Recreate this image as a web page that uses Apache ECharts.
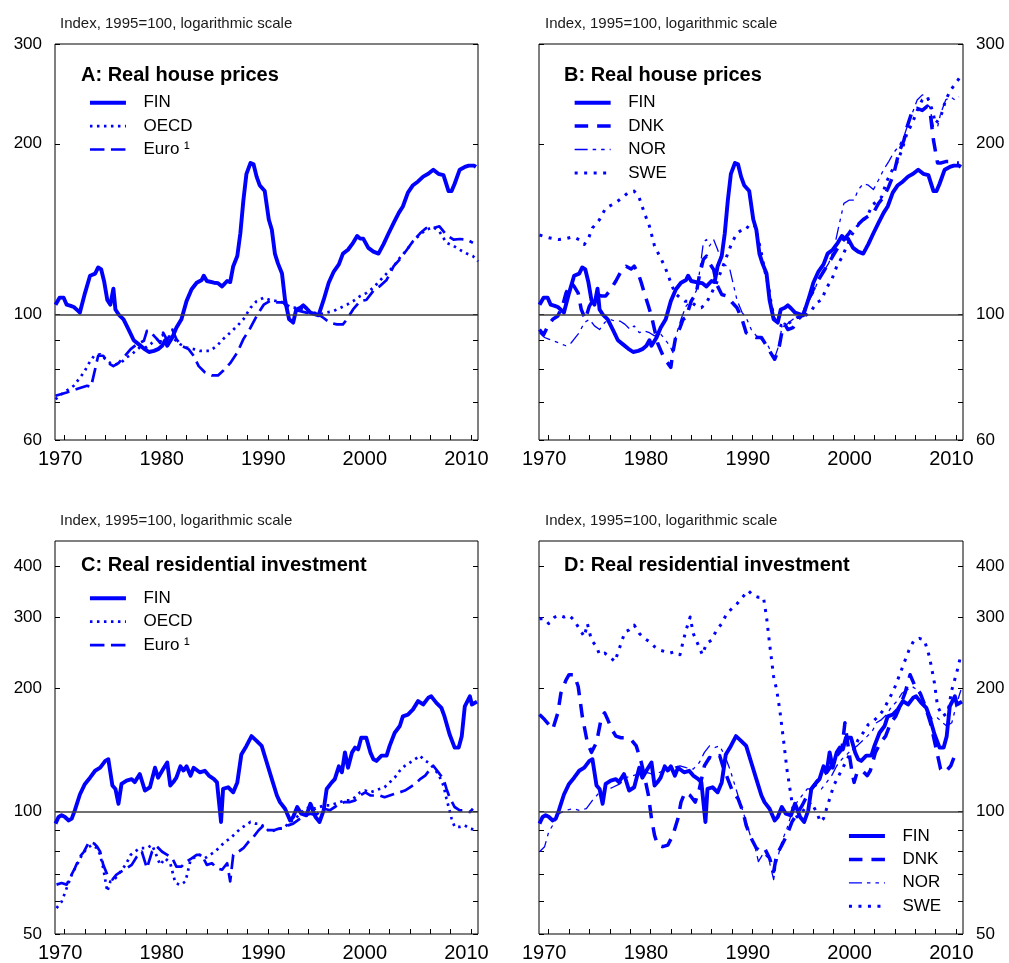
<!DOCTYPE html>
<html>
<head>
<meta charset="utf-8">
<script src="https://cdn.jsdelivr.net/npm/echarts@6/dist/echarts.min.js"></script>
<style>
html, body { margin: 0; padding: 0; background: #fff; }
#chart { width: 1009px; height: 963px; }
</style>
</head>
<body>
<div id="chart"></div>
<script>
// ---- Data: [year, index (1995 = 100)] ----
const finHousePrices = [[1969.1,104],[1969.5,107],[1969.9,107],[1970.2,104],[1970.6,103.5],[1970.9,103],[1971.3,101.5],[1971.5,100.7],[1972.0,109],[1972.5,117],[1973.0,118],[1973.3,121],[1973.6,120],[1973.9,114],[1974.2,106],[1974.5,104],[1974.8,111],[1975.0,102],[1975.3,100],[1975.8,98],[1976.3,94],[1976.8,90],[1977.3,88.5],[1977.8,87],[1978.3,85.8],[1978.8,86.2],[1979.2,86.8],[1979.6,88],[1979.9,90],[1980.1,88],[1980.6,91],[1981.0,94.7],[1981.5,98],[1982.0,105.5],[1982.5,110.7],[1983.0,113.7],[1983.5,115],[1983.7,117],[1984.0,114.5],[1984.7,113.7],[1985.1,113.5],[1985.5,112],[1986.0,114.5],[1986.3,114],[1986.6,121.6],[1987.0,126.7],[1987.3,139],[1987.6,159],[1987.9,177],[1988.3,185],[1988.6,184],[1988.9,175],[1989.2,169],[1989.7,165],[1990.1,147],[1990.4,141],[1990.7,128],[1991.0,123],[1991.4,118],[1991.7,106],[1992.1,98],[1992.5,96.7],[1992.8,102],[1993.2,102.7],[1993.5,103.7],[1993.8,102.5],[1994.2,100.7],[1994.7,100],[1995.0,99.6],[1995.5,106],[1996.0,113.7],[1996.5,119],[1997.0,122.5],[1997.4,128],[1997.9,130],[1998.4,133.7],[1998.8,137.5],[1999.1,136],[1999.4,136],[1999.9,131],[2000.4,129],[2000.9,128],[2001.4,133],[2001.9,139],[2002.4,145],[2002.9,151],[2003.3,155],[2003.8,164],[2004.3,169],[2004.8,171.6],[2005.3,175],[2005.8,177],[2006.3,180],[2006.8,177],[2007.3,176],[2007.8,165],[2008.1,165],[2008.4,170],[2008.9,180],[2009.4,182],[2009.8,183],[2010.3,183],[2010.5,182]];

const oecdHousePrices = [[1969.1,70.8],[1969.7,72.3],[1970.9,74.8],[1971.9,79],[1972.4,82],[1972.9,84.5],[1973.5,85],[1973.8,84],[1974.5,82],[1975.0,81.6],[1975.5,82],[1976.1,83.9],[1976.8,85.6],[1977.4,87.4],[1978.1,87.5],[1978.6,89],[1979.2,90.5],[1979.7,92],[1980.2,91.5],[1980.6,91],[1981.4,88.5],[1982.0,87.4],[1982.7,86.8],[1983.3,86.2],[1984.3,86.2],[1985.0,88],[1985.6,90.4],[1986.3,92.8],[1987.0,95.4],[1987.6,98],[1988.3,102.7],[1988.9,105.5],[1989.6,107],[1990.2,106],[1990.9,105.5],[1991.5,105],[1992.2,103],[1993.0,102.5],[1994.0,101.5],[1995.1,100],[1996.5,101.4],[1997.8,104],[1998.4,105.5],[1999.1,107.7],[1999.7,109],[2000.4,111.4],[2001.0,114.5],[2001.7,118],[2002.4,121.6],[2003.0,125.8],[2003.7,130],[2004.3,134.6],[2005.0,138.3],[2005.6,141],[2006.3,142.6],[2006.9,140],[2007.6,133.7],[2008.3,132],[2008.9,130],[2009.6,128],[2010.2,126.7],[2010.7,124]];

const euroHousePrices = [[1969.1,71.8],[1970.2,72.8],[1971.2,73.8],[1972.2,74.8],[1972.6,74.5],[1973.0,80],[1973.3,84.5],[1973.8,84.5],[1974.3,82],[1974.8,81],[1975.3,82],[1975.8,83.9],[1976.5,86.8],[1977.1,88.5],[1977.8,89.8],[1978.1,93.5],[1978.4,93.5],[1978.8,91.6],[1979.1,90.4],[1979.4,89],[1979.7,92.8],[1980.1,90],[1980.6,94],[1981.0,90.4],[1981.5,88],[1982.2,86.8],[1982.7,84.5],[1983.2,81],[1983.8,79],[1984.5,78],[1985.1,78],[1985.6,79.5],[1986.3,82],[1987.0,85.6],[1987.6,90.4],[1988.3,94.7],[1988.9,99.3],[1989.6,104],[1990.2,105.5],[1990.9,105],[1991.5,105],[1992.0,102.7],[1993.0,101.5],[1994.0,100.5],[1995.0,100],[1995.5,98.5],[1996.1,96.7],[1996.8,96],[1997.4,96],[1997.8,98],[1998.4,102],[1999.1,105.5],[1999.7,106],[2000.4,110],[2001.0,112],[2001.7,115],[2002.4,121.6],[2003.0,125],[2003.7,130],[2004.3,134.6],[2005.0,139],[2005.6,142],[2006.3,142],[2006.9,143],[2007.6,138],[2008.3,135.5],[2008.9,135.8],[2009.6,135.5],[2010.2,133.7]];

const dnkHousePrices = [[1969.1,94],[1969.5,92],[1970.0,96],[1970.4,98],[1970.9,99.3],[1971.4,104],[1971.7,109],[1972.2,113.7],[1972.5,112],[1972.9,109],[1973.2,102],[1973.6,98],[1974.0,103.4],[1974.3,105.5],[1974.7,108.5],[1975.2,107.7],[1975.6,107.7],[1976.1,110.7],[1976.6,114.5],[1977.1,119],[1977.6,121.6],[1978.1,120.2],[1978.4,121.6],[1978.8,118],[1979.1,113.7],[1979.4,109],[1979.8,103.4],[1980.1,99.3],[1980.4,94],[1980.7,89],[1981.1,85.6],[1981.4,83.3],[1981.7,82],[1982.0,80.6],[1982.2,85.6],[1982.5,91.6],[1982.9,94.7],[1983.2,98],[1983.5,98.7],[1984.0,105.5],[1984.5,109],[1984.8,117],[1985.2,125],[1985.5,126.7],[1985.8,123],[1986.2,120],[1986.5,113],[1987.0,108.4],[1987.5,107.7],[1988.0,105],[1988.5,102.7],[1989.0,98],[1989.4,92.8],[1989.9,91.6],[1990.4,91],[1990.9,91],[1991.4,88],[1991.9,85],[1992.2,83.3],[1992.6,86.8],[1992.9,92.8],[1993.2,96],[1993.5,94],[1994.0,94.7],[1994.5,98],[1995.0,100],[1995.5,106],[1996.0,110.7],[1996.5,115],[1997.0,119],[1997.5,123],[1998.0,127.5],[1998.5,131.9],[1999.0,135.5],[1999.5,139],[2000.0,143],[2000.4,144],[2000.9,147],[2001.4,149],[2001.9,151],[2002.4,157],[2002.9,161],[2003.4,168],[2003.9,177],[2004.4,193],[2004.9,203],[2005.2,214],[2005.7,228],[2006.2,231],[2006.7,229],[2007.2,233],[2007.5,225],[2007.8,203],[2008.2,185],[2008.5,185],[2009.0,186],[2009.5,186],[2010.0,185],[2010.3,185]];

const norHousePrices = [[1969.1,92.8],[1969.6,91],[1970.0,90.4],[1970.5,89.7],[1971.0,89],[1971.7,88],[1972.2,89],[1972.5,90.4],[1973.0,92.8],[1973.5,96.7],[1974.0,98],[1974.5,95.4],[1975.0,94],[1975.5,96.7],[1976.0,98],[1976.5,97.3],[1977.0,97.3],[1977.5,96],[1978.0,94],[1978.4,95.4],[1978.9,92.8],[1979.4,93.5],[1979.9,92.8],[1980.4,91.6],[1980.9,92.8],[1981.4,90.4],[1981.9,88],[1982.2,85.6],[1982.5,91.6],[1983.0,98],[1983.5,103.4],[1984.0,106],[1984.5,110],[1984.8,118],[1985.2,134],[1985.5,135.5],[1985.8,132],[1986.2,135.5],[1986.6,130],[1987.1,123],[1987.5,121.6],[1987.8,120],[1988.1,113.7],[1988.5,106],[1989.0,100.7],[1989.4,98.7],[1989.9,94],[1990.4,91.6],[1990.9,90.4],[1991.4,89],[1991.9,85.6],[1992.1,82.8],[1992.6,88],[1992.9,94.7],[1993.4,96],[1994.0,98],[1994.5,99.3],[1995.0,100.7],[1995.5,105.5],[1996.0,109],[1996.5,115],[1997.0,119],[1997.5,123],[1998.0,130],[1998.5,143],[1999.0,157],[1999.5,159],[2000.0,159],[2000.4,165.8],[2000.9,170],[2001.4,169],[2001.9,166],[2002.4,172.6],[2002.9,180],[2003.4,186],[2003.9,193],[2004.4,198],[2004.9,206],[2005.2,214],[2005.7,226],[2006.2,239],[2006.7,244],[2007.2,242],[2007.5,229],[2007.8,214],[2008.2,214],[2008.5,226],[2009.0,239],[2009.5,242],[2009.9,239],[2010.3,242]];

const sweHousePrices = [[1969.1,138],[1970.0,136.5],[1971.0,135.5],[1971.7,136],[1972.4,137],[1973.0,135.5],[1973.5,132.8],[1973.9,136],[1974.3,142],[1975.0,147],[1975.6,154],[1976.5,157],[1977.3,161],[1977.8,164],[1978.4,165],[1978.9,160.5],[1979.4,151],[1979.9,143],[1980.4,132],[1980.9,126.7],[1981.4,121.6],[1981.9,115],[1982.4,109],[1982.9,107],[1983.4,105.5],[1983.9,105.5],[1984.5,103.4],[1985.0,102.7],[1985.5,104.8],[1986.0,109],[1986.5,113.7],[1987.0,120],[1987.5,126.7],[1988.0,133.8],[1988.5,139],[1989.0,141],[1989.4,143],[1989.9,141],[1990.3,143],[1990.6,135.5],[1990.9,128],[1991.2,120],[1991.6,112],[1991.9,103.4],[1992.2,98],[1992.6,96],[1992.9,95.4],[1993.4,96],[1993.9,97.3],[1994.4,98.7],[1994.9,98.7],[1995.4,100],[1995.8,101.4],[1996.3,104.8],[1996.8,106],[1997.3,111.4],[1997.8,115],[1998.3,121.6],[1998.8,126],[1999.3,132],[1999.8,138.3],[2000.3,143],[2000.8,146],[2001.3,149],[2001.8,156],[2002.2,158],[2002.7,161],[2003.2,171.6],[2003.7,179],[2004.2,185],[2004.7,195],[2005.2,209],[2005.7,217],[2006.2,229],[2006.7,239],[2007.2,242],[2007.7,229],[2008.0,217],[2008.5,223],[2009.0,239],[2009.5,249],[2010.0,256],[2010.4,262]];

const finInvestment = [[1969.1,93.3],[1969.4,96.9],[1969.7,97.8],[1970.0,97],[1970.4,95],[1970.7,96],[1971.0,100.6],[1971.5,110],[1972.0,116.8],[1972.5,121],[1973.0,125.8],[1973.5,128],[1974.0,133],[1974.3,134.3],[1974.7,115.7],[1975.0,113.5],[1975.3,104.4],[1975.6,116.8],[1976.1,119],[1976.6,120],[1976.9,118],[1977.4,123.5],[1977.9,112.5],[1978.4,114.6],[1978.9,128],[1979.2,121],[1979.7,127],[1980.1,131.8],[1980.4,115.7],[1980.7,118],[1981.0,121],[1981.4,129],[1981.7,126],[1982.0,129],[1982.4,122.4],[1982.7,128],[1983.3,124.7],[1983.8,125.8],[1984.2,122.4],[1984.7,120],[1985.0,117.8],[1985.4,94.2],[1985.6,113.5],[1986.1,114.6],[1986.6,111.4],[1987.0,117.8],[1987.4,138],[1987.9,144.8],[1988.4,153],[1988.9,149],[1989.4,144.8],[1989.9,131.8],[1990.4,120],[1990.9,109.4],[1991.2,105.4],[1991.7,101.5],[1992.2,95],[1992.5,96.9],[1992.9,102.5],[1993.3,98.7],[1993.8,97.8],[1994.2,104.4],[1994.7,96.9],[1995.1,94.2],[1995.5,100.6],[1995.8,113.5],[1996.3,117.8],[1996.6,120],[1997.0,129],[1997.3,124.7],[1997.6,139.6],[1997.9,128],[1998.3,139.6],[1998.6,143.4],[1998.9,142],[1999.2,151.6],[1999.7,151.6],[2000.1,139.6],[2000.4,134.3],[2000.7,133],[2001.2,137],[2001.7,137],[2002.0,144.8],[2002.5,156],[2003.0,162],[2003.3,171],[2003.8,172.7],[2004.3,178],[2004.8,186.5],[2005.3,183],[2005.8,190],[2006.1,191.6],[2006.6,184.6],[2007.1,179.4],[2007.4,171],[2007.9,154.6],[2008.4,143.4],[2008.8,143.4],[2009.1,153],[2009.4,181],[2009.9,191.6],[2010.1,183],[2010.6,186]];

const oecdInvestment = [[1969.2,57.9],[1969.7,60],[1970.2,64.8],[1970.7,69.9],[1971.2,73.9],[1971.7,78.2],[1972.2,81.2],[1972.7,82.7],[1973.2,81.2],[1973.5,78.2],[1973.8,72.5],[1974.2,63.6],[1974.5,67.3],[1975.0,68.5],[1975.5,71.2],[1976.0,73.9],[1976.5,78.2],[1976.9,79.6],[1977.4,81.2],[1978.1,81.2],[1978.6,82.7],[1978.9,79.6],[1979.4,73.9],[1979.9,76.7],[1980.4,74.6],[1980.9,66.7],[1981.4,66],[1981.9,67.3],[1982.4,76],[1982.9,77.4],[1983.3,78.2],[1983.8,76.7],[1984.3,78.2],[1984.8,79.6],[1985.3,81.9],[1985.8,84.2],[1986.3,85.8],[1986.8,88.2],[1987.3,90.7],[1987.8,92.4],[1988.3,94.2],[1988.8,93.3],[1989.2,93.3],[1989.7,91.6],[1990.2,89],[1990.7,89.9],[1991.2,90.7],[1991.7,91.6],[1992.2,94.2],[1992.7,96],[1993.2,98.7],[1993.7,101.5],[1994.2,102.5],[1994.7,101.5],[1995.1,102.5],[1995.6,103.4],[1996.1,103.4],[1996.6,104.4],[1997.1,105.4],[1997.6,106.4],[1998.1,106.4],[1998.6,108.3],[1999.1,111.4],[1999.6,112.5],[2000.1,111.4],[2000.6,112.5],[2001.0,113.5],[2001.5,114.6],[2002.0,117.8],[2002.5,121],[2003.0,125.8],[2003.5,129.4],[2004.0,131.8],[2004.5,134.3],[2005.0,137],[2005.3,134.3],[2005.8,131.8],[2006.3,128],[2006.8,123.5],[2007.3,115.7],[2007.6,107.4],[2008.1,96],[2008.4,91.6],[2008.9,91.6],[2009.4,92.4],[2009.9,90.7],[2010.6,89.9]];

const euroInvestment = [[1969.2,66.1],[1969.7,66.7],[1970.2,66.1],[1970.5,68.5],[1971.0,72.5],[1971.5,77.4],[1971.9,79.6],[1972.4,84.2],[1972.9,83.4],[1973.2,81.9],[1973.5,79.6],[1973.8,73.9],[1974.2,69.9],[1974.7,68],[1975.1,69.9],[1975.6,71.2],[1976.1,72.5],[1976.6,73.9],[1977.1,77.4],[1977.6,79.6],[1978.1,72.5],[1978.6,79.6],[1979.1,81.9],[1979.6,79.6],[1980.1,78.2],[1980.6,76.7],[1981.0,73.2],[1981.5,73.2],[1982.0,75.3],[1982.5,76.7],[1983.0,78.2],[1983.5,78.2],[1984.0,73.9],[1984.5,74.6],[1985.0,72.5],[1985.5,71.9],[1986.0,74.6],[1986.3,67.3],[1986.6,78.2],[1987.1,79.6],[1987.6,81.2],[1988.1,84.2],[1988.6,86.6],[1989.1,89.9],[1989.6,92.4],[1990.1,89.9],[1990.6,89.9],[1991.1,90.7],[1991.5,90.7],[1992.0,92.4],[1992.5,93.3],[1993.2,96],[1993.7,97.8],[1994.2,98.7],[1994.7,97.8],[1995.1,99.6],[1995.6,101.5],[1996.1,100.6],[1996.6,102.5],[1997.1,104.4],[1997.6,105.4],[1998.1,105.4],[1998.6,106.4],[1999.1,109.4],[1999.6,111.4],[2000.1,109.4],[2000.6,109.4],[2001.0,109.4],[2001.5,108.3],[2002.0,109.4],[2002.5,110.4],[2003.0,111.4],[2003.5,112.5],[2004.0,114.6],[2004.5,116.8],[2005.0,120],[2005.5,122.4],[2006.0,127],[2006.3,129.4],[2006.8,124.7],[2007.3,120],[2007.6,113.5],[2007.9,108.3],[2008.4,102.5],[2008.9,100.6],[2009.4,100.6],[2009.9,99.6],[2010.2,101.5]];

const dnkInvestment = [[1969.1,172.8],[1969.6,168],[1970.0,163.5],[1970.4,159],[1970.9,174.5],[1971.2,195],[1971.7,210],[1972.0,216.5],[1972.5,216.5],[1972.9,202.6],[1973.3,171.3],[1973.8,147.5],[1974.2,139.6],[1974.7,147.5],[1975.2,171],[1975.5,174.5],[1975.8,168],[1976.2,159],[1976.6,153],[1977.1,151.6],[1977.6,151.6],[1978.1,150],[1978.6,144.8],[1979.1,131.8],[1979.4,122.4],[1979.8,109.4],[1980.1,96],[1980.4,87.4],[1980.7,82.6],[1981.2,81.9],[1981.7,82.6],[1982.2,87.4],[1982.7,96],[1983.0,105.4],[1983.4,111.4],[1983.9,109.4],[1984.4,105.4],[1984.8,113.5],[1985.3,129.4],[1985.8,135.6],[1986.3,134.3],[1986.8,137],[1987.1,129.4],[1987.6,120],[1988.1,111.4],[1988.6,107.4],[1989.1,99.6],[1989.4,92.4],[1989.9,85.8],[1990.4,81.2],[1990.8,80],[1991.2,81.2],[1991.7,76.7],[1992.1,71.2],[1992.4,78.2],[1992.9,82.6],[1993.4,87.4],[1993.9,94.2],[1994.4,98.7],[1994.9,103.4],[1995.4,109.4],[1995.8,113.5],[1996.3,117.8],[1996.8,122.4],[1997.3,124.7],[1997.8,129.4],[1998.3,137],[1998.8,142],[1999.1,165],[1999.5,139.6],[1999.8,124.7],[2000.0,117.8],[2000.3,124.7],[2000.8,125.8],[2001.3,122.4],[2001.6,126],[2002.1,139.6],[2002.6,147.5],[2003.1,153],[2003.6,165],[2004.1,171.3],[2004.5,181],[2005.0,195],[2005.5,216.5],[2006.0,202.6],[2006.5,195],[2007.0,181],[2007.5,165],[2008.0,144.8],[2008.5,127],[2008.8,124.7],[2009.1,126],[2009.5,129.4],[2010.0,139.6]];

const norInvestment = [[1969.1,79.6],[1969.6,81.9],[1970.0,89],[1970.6,94.2],[1971.0,98.7],[1971.7,100.6],[1972.4,101.5],[1973.0,100.6],[1973.7,101.5],[1974.3,106.4],[1975.0,111.4],[1975.6,112.5],[1976.3,114.6],[1977.0,116.8],[1977.6,121],[1978.3,122.4],[1978.9,123.5],[1979.6,124.7],[1980.2,123.5],[1980.9,124.7],[1981.6,127],[1982.2,128],[1982.9,129.4],[1983.5,128],[1984.2,127],[1984.8,131.8],[1985.3,139.6],[1985.8,144.8],[1986.3,143.4],[1986.8,144.8],[1987.3,137],[1987.8,127],[1988.3,115.7],[1988.8,105.4],[1989.3,96],[1989.8,87.4],[1990.3,81.2],[1990.6,75.3],[1991.1,78.9],[1991.6,76.7],[1992.1,68],[1992.4,75.3],[1992.9,84.2],[1993.4,90.7],[1993.9,99.6],[1994.4,105.4],[1994.9,109.4],[1995.4,113.5],[1995.8,113.5],[1996.3,115.7],[1996.8,113.5],[1997.3,117.8],[1997.8,122.4],[1998.3,129.4],[1998.8,134.3],[1999.3,138],[1999.8,142],[2000.3,144.8],[2000.8,148.8],[2001.3,153],[2001.8,157.6],[2002.2,165],[2002.7,168],[2003.2,172.8],[2003.7,181],[2004.2,186.2],[2004.7,195],[2005.2,198.6],[2005.7,202.6],[2006.2,198.6],[2006.7,188],[2007.2,178],[2007.7,168],[2008.2,169.6],[2008.7,165],[2009.1,162],[2009.6,165],[2010.1,184.6],[2010.5,198.6]];

const sweInvestment = [[1969.1,297],[1969.6,297],[1970.0,289],[1970.6,300],[1971.0,303],[1971.5,300],[1972.0,303],[1972.5,294.5],[1973.0,281],[1973.5,268.5],[1973.8,289],[1974.2,263.4],[1974.7,253.7],[1975.0,242.4],[1975.5,244.6],[1976.0,240],[1976.5,233],[1977.0,253.7],[1977.5,276],[1977.9,278.8],[1978.4,286.6],[1978.9,273.4],[1979.4,265.9],[1979.9,260.9],[1980.4,253.7],[1980.9,248.9],[1981.4,246.7],[1981.9,244.6],[1982.4,246.7],[1982.9,242.4],[1983.2,260.9],[1983.5,278.8],[1983.9,300],[1984.2,273.4],[1984.7,256],[1985.1,242.4],[1985.5,258.3],[1986.0,263.4],[1986.5,278.8],[1987.0,289],[1987.5,306],[1988.0,314.6],[1988.5,323.3],[1988.9,332.4],[1989.6,348.4],[1990.1,338.6],[1990.6,335.3],[1991.1,335.3],[1991.4,300],[1991.7,258],[1992.1,214],[1992.4,198.6],[1992.7,177.6],[1993.1,147.5],[1993.4,127],[1993.7,113.5],[1994.0,101.5],[1994.4,96.9],[1994.9,99.6],[1995.4,103.4],[1995.8,105.4],[1996.3,99.6],[1996.7,94.2],[1997.0,96],[1997.5,105.4],[1998.0,115.7],[1998.5,122.4],[1999.0,129.4],[1999.5,137],[2000.0,142],[2000.4,150],[2000.9,156],[2001.4,163.5],[2001.9,166.6],[2002.4,171.3],[2002.9,177.6],[2003.4,188],[2003.9,198.6],[2004.4,214],[2004.9,231],[2005.4,249],[2005.9,263.4],[2006.4,265.9],[2006.9,263.4],[2007.4,240],[2007.9,206.3],[2008.2,181],[2008.7,171.3],[2009.2,174.5],[2009.6,198.6],[2010.1,220],[2010.5,242.4]];

// ---- Axis ticks and labels ----
const tickYears = [1970,1972,1974,1976,1978,1980,1982,1984,1986,1988,1990,1992,1994,1996,1998,2000,2002,2004,2006,2008,2010];
const labelYears = [1970,1980,1990,2000,2010];
const priceTicks = [60,70,80,90,100,200,300];
const priceLabels = [60,100,200,300];
const investTicks = [50,60,70,80,90,100,200,300,400];
const investLabels = [50,100,200,300,400];

const subtitleText = 'Index, 1995=100, logarithmic scale';
const panelTitles = ['A: Real house prices', 'B: Real house prices', 'C: Real residential investment', 'D: Real residential investment'];

// ---- Styling ----
const FONT = '"Liberation Sans", Arial, Helvetica, sans-serif';
const BLUE = '#0000ff';
const STYLE = {
  'FIN':    { width: 3.9, type: 'solid' },
  'OECD':   { width: 2.7, type: [2.5, 4.5] },
  'Euro ¹': { width: 2.7, type: [14.5, 6.5] },
  'DNK':    { width: 3.5, type: [13.5, 9] },
  'NOR':    { width: 1.3, type: [13, 5, 3.5, 5, 3.5, 5] },
  'SWE':    { width: 3.0, type: [3, 6.5] }
};

const X_MIN = 1969.05, X_MAX = 2010.7;
const grids = [
  { left: 55,  top: 44,  width: 423, height: 396 },
  { left: 539, top: 44,  width: 424, height: 396 },
  { left: 55,  top: 541, width: 423, height: 395 },
  { left: 539, top: 541, width: 424, height: 395 }
];

function xAxisFor(gi) {
  return {
    type: 'value', gridIndex: gi, min: X_MIN, max: X_MAX,
    axisLine: { show: false }, splitLine: { show: false },
    axisTick: { show: true, inside: true, length: 5, customValues: tickYears, lineStyle: { color: '#000', width: 1 } },
    axisLabel: { customValues: labelYears, fontSize: 20, margin: 9, color: '#000', fontFamily: FONT,
      padding: [0, 9, 0, 0], formatter: v => String(v) }
  };
}

function yAxisFor(gi, pos, range, ticks, labels, showLabels) {
  return {
    type: 'log', logBase: 10, gridIndex: gi, position: pos, min: range[0], max: range[1],
    axisLine: { show: false }, splitLine: { show: false }, minorTick: { show: false },
    axisTick: { show: true, inside: true, length: 5, customValues: ticks, lineStyle: { color: '#000', width: 1 } },
    axisLabel: { show: showLabels, customValues: labels, fontSize: 17, margin: 13, color: '#000', fontFamily: FONT, formatter: v => String(Math.round(v)) }
  };
}

const PRICE_RANGE = [60, 300];
const INVEST_RANGE = [50, 461];

// y axes: per grid, first = labelled axis used by series, second = tick-only mirror
const yAxes = [
  yAxisFor(0, 'left',  PRICE_RANGE, priceTicks, priceLabels, true),
  yAxisFor(0, 'right', PRICE_RANGE, priceTicks, priceLabels, false),
  yAxisFor(1, 'right', PRICE_RANGE, priceTicks, priceLabels, true),
  yAxisFor(1, 'left',  PRICE_RANGE, priceTicks, priceLabels, false),
  yAxisFor(2, 'left',  INVEST_RANGE, investTicks, investLabels, true),
  yAxisFor(2, 'right', INVEST_RANGE, investTicks, investLabels, false),
  yAxisFor(3, 'right', INVEST_RANGE, investTicks, investLabels, true),
  yAxisFor(3, 'left',  INVEST_RANGE, investTicks, investLabels, false)
];

function lineSeries(name, data, gi, withBase) {
  const st = STYLE[name];
  const s = {
    type: 'line', name: name, data: data,
    xAxisIndex: gi, yAxisIndex: gi * 2,
    symbol: 'none', showSymbol: false, smooth: false, silent: true,
    color: BLUE,
    lineStyle: { color: BLUE, width: st.width, type: st.type, cap: 'butt', join: 'round' },
    z: name === 'FIN' ? 4 : 3
  };
  if (withBase) {
    s.markLine = {
      silent: true, symbol: 'none', label: { show: false }, animation: false,
      lineStyle: { color: '#404040', width: 1.5, type: 'solid' },
      data: [{ yAxis: 100 }]
    };
  }
  return s;
}

const series = [
  lineSeries('OECD', oecdHousePrices, 0, true),
  lineSeries('Euro ¹', euroHousePrices, 0, false),
  lineSeries('FIN', finHousePrices, 0, false),

  lineSeries('DNK', dnkHousePrices, 1, true),
  lineSeries('NOR', norHousePrices, 1, false),
  lineSeries('SWE', sweHousePrices, 1, false),
  lineSeries('FIN', finHousePrices, 1, false),

  lineSeries('OECD', oecdInvestment, 2, true),
  lineSeries('Euro ¹', euroInvestment, 2, false),
  lineSeries('FIN', finInvestment, 2, false),

  lineSeries('DNK', dnkInvestment, 3, true),
  lineSeries('NOR', norInvestment, 3, false),
  lineSeries('SWE', sweInvestment, 3, false),
  lineSeries('FIN', finInvestment, 3, false)
];

// legend entries: plain line keys, same stroke as their series
function legendItems(names) {
  return names.map(n => ({
    name: n,
    itemStyle: { color: 'transparent', borderWidth: 0, opacity: 0 },
    lineStyle: { color: BLUE, width: STYLE[n].width, type: STYLE[n].type, cap: 'butt' }
  }));
}

function legendAt(left, top, names) {
  return {
    orient: 'vertical', left: left, top: top, padding: 0,
    itemWidth: 36, itemHeight: 14, itemGap: 3.4,
    selectedMode: false, data: legendItems(names),
    itemStyle: { color: 'transparent', borderWidth: 0, opacity: 0 },
    textStyle: { fontSize: 17, color: '#000', fontFamily: FONT, lineHeight: 20, padding: [0, 0, 0, 12.5] }
  };
}

const titles = [];
const subPos = [[60, 16.5], [545, 16.5], [60, 513], [545, 513]];
const titlePos = [[81, 65], [564, 65], [81, 555], [564, 555]];
for (let i = 0; i < 4; i++) {
  titles.push({ text: subtitleText, left: subPos[i][0], top: subPos[i][1], padding: 0,
    textStyle: { fontSize: 15, fontWeight: 'normal', color: '#1a1a1a', fontFamily: FONT } });
  titles.push({ text: panelTitles[i], left: titlePos[i][0], top: titlePos[i][1], padding: 0,
    textStyle: { fontSize: 20, fontWeight: 'bold', color: '#000', fontFamily: FONT } });
}

const option = {
  animation: false,
  backgroundColor: '#fff',
  textStyle: { fontFamily: FONT },
  title: titles,
  grid: grids.map(g => Object.assign({ show: true, borderColor: '#000', borderWidth: 1, backgroundColor: 'transparent', containLabel: false }, g)),
  xAxis: [0, 1, 2, 3].map(xAxisFor),
  yAxis: yAxes,
  legend: [
    legendAt(88, 92.7, ['FIN', 'OECD', 'Euro ¹']),
    legendAt(572.7, 92.7, ['FIN', 'DNK', 'NOR', 'SWE']),
    legendAt(88, 588.3, ['FIN', 'OECD', 'Euro ¹']),
    legendAt(847, 826, ['FIN', 'DNK', 'NOR', 'SWE'])
  ],
  series: series
};

const chart = echarts.init(document.getElementById('chart'), null, { renderer: 'canvas', width: 1009, height: 963 });
chart.setOption(option);
</script>
</body>
</html>
